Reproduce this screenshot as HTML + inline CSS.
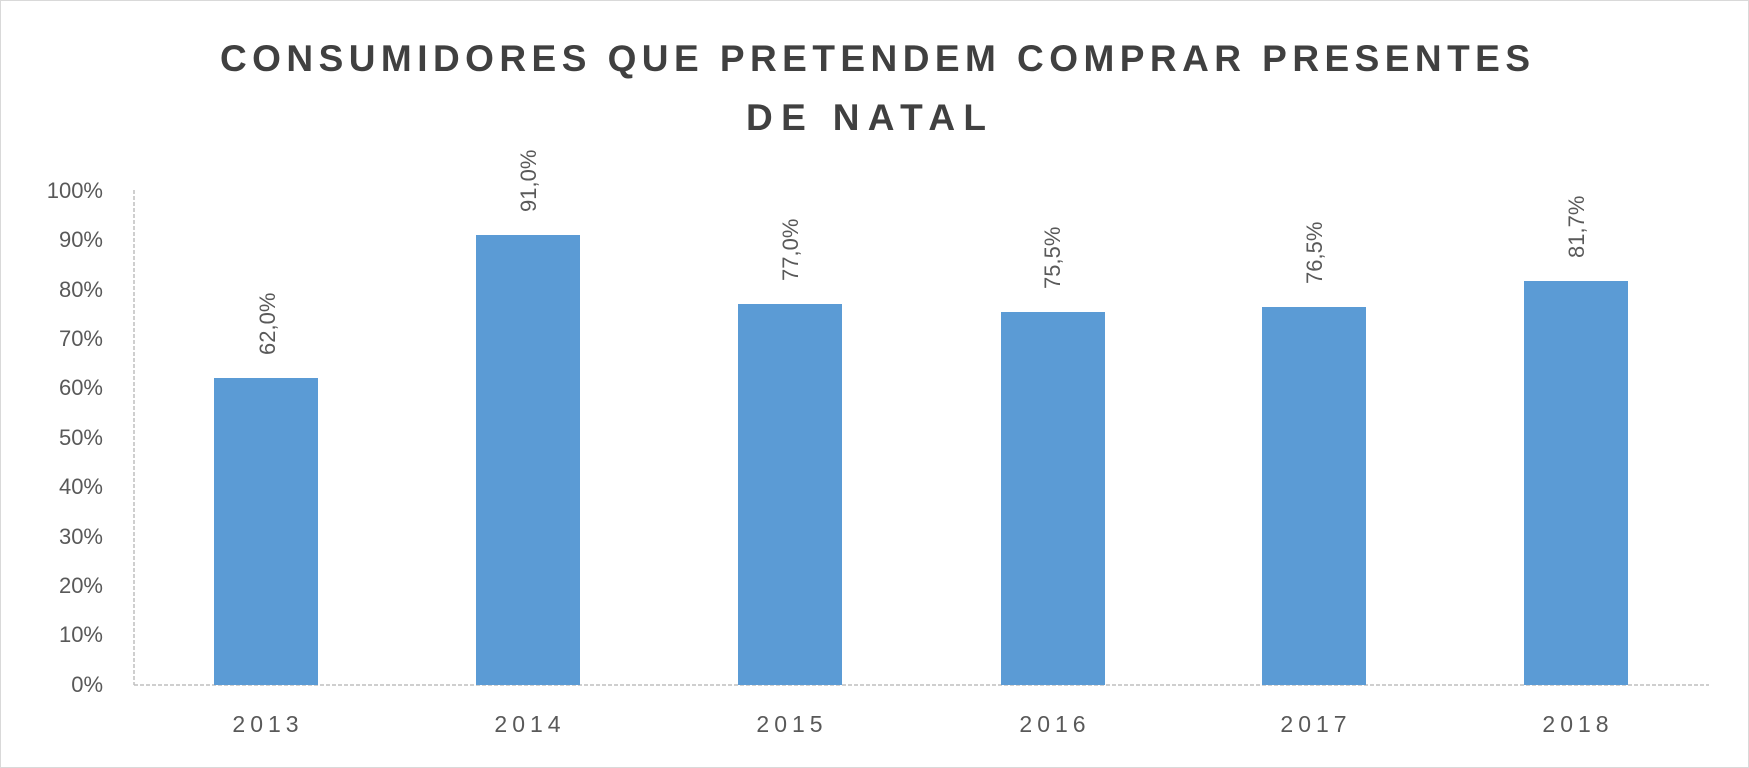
<!DOCTYPE html>
<html><head><meta charset="utf-8"><style>
html,body{margin:0;padding:0;background:#fff;}
svg{display:block;}
text{font-family:"Liberation Sans",sans-serif;fill:#595959;}
</style></head><body>
<svg width="1749" height="768" viewBox="0 0 1749 768" xmlns="http://www.w3.org/2000/svg">
<rect x="0.5" y="0.5" width="1748" height="767" fill="#fff" stroke="#d9d9d9" stroke-width="1"/>
<text x="875" y="71" text-anchor="middle" font-size="37" font-weight="bold" style="fill:#404040" textLength="1310" lengthAdjust="spacing">CONSUMIDORES QUE PRETENDEM COMPRAR PRESENTES</text>
<text x="866" y="130" text-anchor="middle" font-size="37" font-weight="bold" style="fill:#404040" textLength="240" lengthAdjust="spacing">DE NATAL</text>
<g stroke="#bfbfbf" stroke-width="1.5" stroke-dasharray="4,2" fill="none">
<line x1="134" y1="190" x2="134" y2="685"/>
<line x1="134" y1="685" x2="1709" y2="685"/>
</g>
<g font-size="22" text-anchor="end">
<text x="103" y="692">0%</text>
<text x="103" y="642">10%</text>
<text x="103" y="593">20%</text>
<text x="103" y="544">30%</text>
<text x="103" y="494">40%</text>
<text x="103" y="445">50%</text>
<text x="103" y="395">60%</text>
<text x="103" y="346">70%</text>
<text x="103" y="297">80%</text>
<text x="103" y="247">90%</text>
<text x="103" y="198">100%</text>
</g>
<g fill="#5b9bd5">
<rect x="214" y="378" width="104" height="307"/>
<rect x="476" y="235" width="104" height="450"/>
<rect x="738" y="304" width="104" height="381"/>
<rect x="1001" y="312" width="104" height="373"/>
<rect x="1262" y="307" width="104" height="378"/>
<rect x="1524" y="281" width="104" height="404"/>
</g>
<g font-size="22">
<text transform="translate(275,355) rotate(-90)">62,0%</text>
<text transform="translate(536,212) rotate(-90)">91,0%</text>
<text transform="translate(798,281) rotate(-90)">77,0%</text>
<text transform="translate(1060,289) rotate(-90)">75,5%</text>
<text transform="translate(1322,284) rotate(-90)">76,5%</text>
<text transform="translate(1584,258) rotate(-90)">81,7%</text>
</g>
<g font-size="23" text-anchor="middle" letter-spacing="5">
<text x="268" y="732">2013</text>
<text x="530" y="732">2014</text>
<text x="792" y="732">2015</text>
<text x="1055" y="732">2016</text>
<text x="1316" y="732">2017</text>
<text x="1578" y="732">2018</text>
</g>
</svg>
</body></html>
